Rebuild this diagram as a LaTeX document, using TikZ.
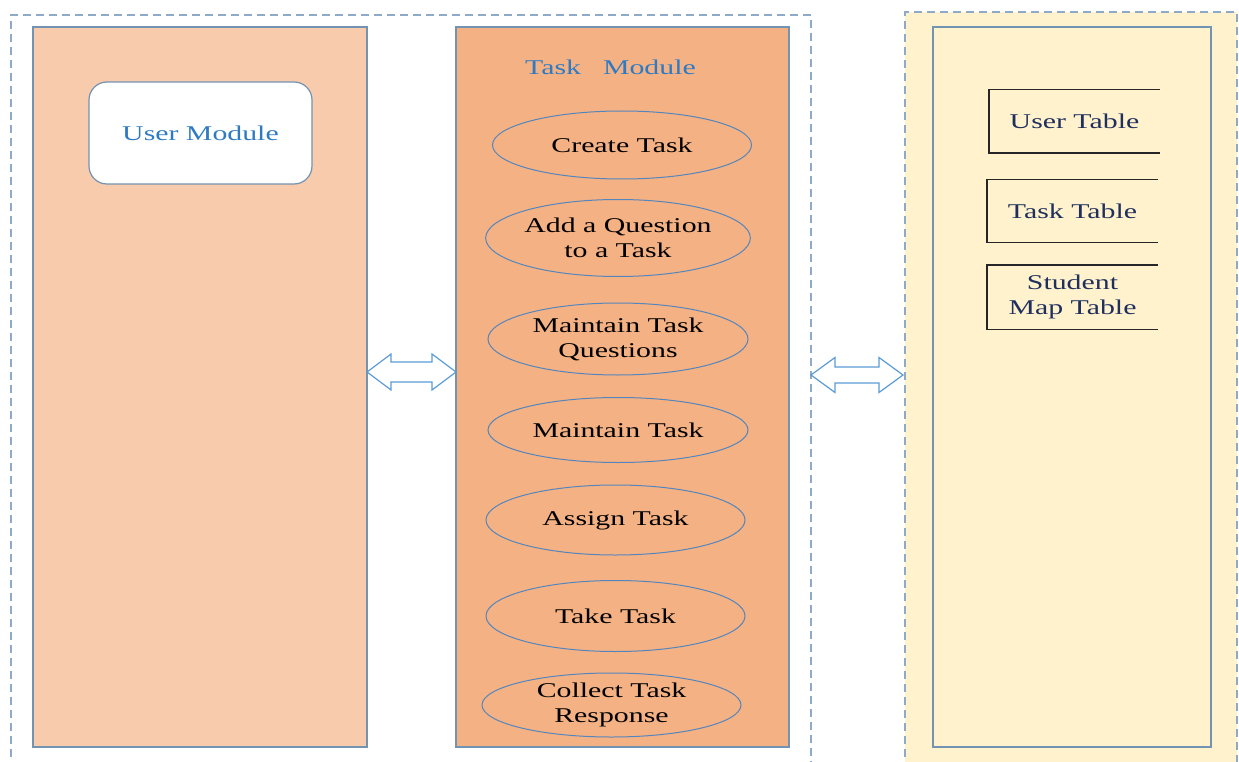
\documentclass[tikz,border=0pt]{standalone}
\usepackage{fontspec}
\usepackage{graphicx}
\setmainfont{Liberation Serif}
\usetikzlibrary{shapes.geometric}
\definecolor{leftfill}{HTML}{F8CBAD}
\definecolor{midfill}{HTML}{F4B183}
\definecolor{yelfill}{HTML}{FFF2CC}
\definecolor{panelline}{HTML}{7393B3}
\definecolor{ellline}{HTML}{5585BD}
\definecolor{dashline}{HTML}{8FAAC6}
\definecolor{bluetext}{HTML}{2E7BC4}
\definecolor{navytext}{HTML}{1F2F5E}
\definecolor{arrline}{HTML}{5B9BD5}
\newcommand\sx[1]{\scalebox{1.42}[1]{#1}}
\tikzset{
  panel/.style={rectangle, draw=panelline, line width=1.2pt, inner sep=0pt},
  outerdash/.style={draw=dashline, line width=1.5pt, dash pattern=on 8pt off 5pt},
  usecase/.style={ellipse, draw=ellline, line width=1pt, inner sep=0pt, align=center,
     font=\fontsize{21}{25}\selectfont, text=black},
  tabbox/.style={rectangle, inner sep=0pt, align=center,
     font=\fontsize{21}{25}\selectfont, text=navytext},
  tabline/.style={draw=black!85, line width=1.4pt},
  blockarrow/.style={draw=arrline, fill=white, line width=1.2pt, line join=miter},
}
\begin{document}
\begin{tikzpicture}[x=1pt,y=-1pt]
\useasboundingbox (0,0) rectangle (1239,762);
% outer frames
\draw[outerdash] (11,770) -- (11,15) -- (811,15) -- (811,770);
\fill[yelfill] (905,12) rectangle (1237,770);
\draw[outerdash] (905,770) -- (905,12) -- (1237,12) -- (1237,770);
% panels
\node[panel, fill=leftfill, minimum width=334pt, minimum height=720pt] (L) at (200,387) {};
\node[panel, fill=midfill, minimum width=333pt, minimum height=720pt] (M) at (622.5,387) {};
\node[panel, fill=yelfill, minimum width=278pt, minimum height=720pt] (R) at (1072,387) {};
% user module
\node[rectangle, rounded corners=18pt, draw=panelline, line width=1.2pt, fill=white,
  minimum width=223pt, minimum height=102pt, inner sep=0pt,
  font=\fontsize{21}{25}\selectfont, text=bluetext] (UM) at (200.5,133) {\sx{User Module}};
% task module
\node[font=\fontsize{21}{25}\selectfont, text=bluetext, inner sep=0pt] (TM) at (610.5,67) {\sx{Task}\hspace{22pt}\sx{Module}};
\node[usecase, minimum width=259pt, minimum height=68pt] (E1) at (622,145) {\sx{Create Task}};
\node[usecase, minimum width=260pt, minimum height=77pt] (E2) at (618,238) {\sx{Add a Question}\\\sx{to a Task}};
\node[usecase, minimum width=260pt, minimum height=72pt] (E3) at (618,339) {\sx{Maintain Task}\\\sx{Questions}};
\node[usecase, minimum width=260pt, minimum height=65pt] (E4) at (618,430) {\sx{Maintain Task}};
\node[usecase, minimum width=259pt, minimum height=70pt] (E5) at (615.5,520) {\sx{Assign Task}};
\node[usecase, minimum width=259pt, minimum height=71pt] (E6) at (615.5,616) {\sx{Take Task}};
\node[usecase, minimum width=259pt, minimum height=64pt] (E7) at (611.5,705) {\sx{Collect Task}\\\sx{Response}};
% tables
\node[tabbox, minimum width=171pt, minimum height=63pt] (T1) at (1074.5,121.5) {\sx{User Table}};
\node[tabbox, minimum width=171pt, minimum height=62pt] (T2) at (1072.5,211) {\sx{Task Table}};
\node[tabbox, minimum width=171pt, minimum height=64pt] (T3) at (1072.5,297) {\sx{Student}\\\sx{Map Table}};
\foreach \t in {T1,T2,T3}{
  \draw[tabline] (\t.north east) -- (\t.north west) -- (\t.south west) -- (\t.south east);
}
% block double arrows
\draw[blockarrow] (367,372) -- (391,354) -- (391,362) -- (432,362) -- (432,354) -- (456,372)
  -- (432,390) -- (432,382) -- (391,382) -- (391,390) -- cycle;
\draw[blockarrow] (811,375) -- (835,357.5) -- (835,367) -- (879,367) -- (879,357.5) -- (903,375)
  -- (879,392.5) -- (879,383) -- (835,383) -- (835,392.5) -- cycle;
\end{tikzpicture}
\end{document}
